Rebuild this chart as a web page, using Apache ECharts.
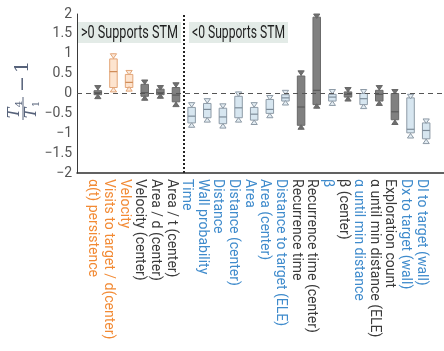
<!DOCTYPE html>
<html>
<head>
<meta charset="utf-8">
<script src="https://cdn.jsdelivr.net/npm/echarts@6/dist/echarts.min.js"></script>
<style>
  html, body { margin: 0; padding: 0; background: #ffffff; }
  #chart { width: 444px; height: 351px; }
</style>
</head>
<body>
<div id="chart"></div>
<script>
// Metric names, left to right
const categories = [
  'α(t) persistence', 'Visits to target / d(center)', 'Velocity',
  'Velocity (center)', 'Area / d (center)', 'Area / t (center)',
  'Time', 'Wall probability', 'Distance', 'Distance (center)', 'Area',
  'Area (center)', 'Distance to target (ELE)', 'Recurrence time',
  'Recurrence time (center)', 'β', 'β (center)', 'α until min distance',
  'α until min distance (ELE)', 'Exploration count',
  'Dx to target (wall)', 'Dl to target (wall)'
];

// Box statistics of T4/T1 - 1 per metric
const whiskerLow  = [-0.13, 0.04, 0.06, -0.17, -0.12, -0.33, -0.85, -0.72, -0.87, -0.72, -0.78, -0.61, -0.29, -0.90, -0.37, -0.30, -0.19, -0.38, -0.30, -0.78, -1.12, -1.26];
const quartile1   = [-0.03, 0.15, 0.15, -0.07, -0.03, -0.21, -0.74, -0.61, -0.76, -0.61, -0.67, -0.50, -0.19, -0.80, -0.28, -0.19, -0.09, -0.28, -0.19, -0.66, -0.99, -1.14];
const medians     = [ 0.02, 0.55, 0.28,  0.02,  0.02, -0.04, -0.57, -0.40, -0.59, -0.36, -0.52, -0.40, -0.11, -0.34,  0.08, -0.09, -0.02, -0.13, -0.02, -0.46, -0.90, -0.93];
const quartile3   = [ 0.07, 0.87, 0.48,  0.23,  0.11,  0.15, -0.35, -0.25, -0.37, -0.07, -0.35, -0.15, -0.03,  0.44,  1.92, -0.02,  0.04,  0.00,  0.08,  0.00, -0.11, -0.74];
const whiskerHigh = [ 0.20, 1.00, 0.58,  0.34,  0.20,  0.27, -0.23, -0.13, -0.26,  0.04, -0.23, -0.05,  0.08,  0.57,  2.00,  0.10,  0.15,  0.10,  0.20,  0.10, -0.02, -0.64];

// Box colour group and label colour group per metric
const boxGroup   = ['gray', 'orange', 'orange', 'gray', 'gray', 'gray', 'blue', 'blue', 'blue', 'blue', 'blue', 'blue', 'blue', 'gray', 'gray', 'blue', 'gray', 'blue', 'gray', 'gray', 'blue', 'blue'];
const labelGroup = ['orange', 'orange', 'orange', 'dark', 'dark', 'dark', 'blue', 'blue', 'blue', 'blue', 'blue', 'blue', 'blue', 'dark', 'dark', 'blue', 'dark', 'blue', 'dark', 'dark', 'blue', 'blue'];

// Y axis ticks
const yTicks = [-2, -1.5, -1, -0.5, 0, 0.5, 1, 1.5, 2];

// Region notes
const noteLeft = '>0 Supports STM';
const noteRight = '<0 Supports STM';

const boxStyles = {
  gray:   { fill: '#808080', stroke: '#686868', median: '#5a5a5a', tri: '#6e6e6e' },
  orange: { fill: '#fde4cf', stroke: '#e3a577', median: '#cf8a55', tri: '#fbe9da' },
  blue:   { fill: '#d7e6f0', stroke: '#8d9aa6', median: '#7d8c99', tri: '#e4edf3' }
};
const labelColors = { orange: '#f28a34', dark: '#3a3a3a', blue: '#3f8bcc' };

const W = 444, H = 351;
const gridTop = 14, gridBottom = 178;
const boxGridLeft = 90, boxGridRight = 10;
const frameLeft = 77, frameRight = 0;
const band = (W - boxGridLeft - boxGridRight) / categories.length;
// frame x-axis spans the same index scale as the category axis, widened to the frame
const frameMin = -0.5 - (boxGridLeft - frameLeft) / band;
const frameMax = categories.length - 0.5 + (boxGridRight - frameRight) / band;

const boxData = categories.map((c, i) => [i, whiskerLow[i], quartile1[i], medians[i], quartile3[i], whiskerHigh[i]]);

function renderBox(params, api) {
  const i = api.value(0);
  const pLo = api.coord([i, api.value(1)]);
  const pQ1 = api.coord([i, api.value(2)]);
  const pMd = api.coord([i, api.value(3)]);
  const pQ3 = api.coord([i, api.value(4)]);
  const pHi = api.coord([i, api.value(5)]);
  const bandW = api.size([1, 0])[0];
  const bw = bandW * 0.48, tw = bandW * 0.4, th = 4.5;
  const st = boxStyles[boxGroup[params.dataIndex]];
  const x = pMd[0];
  const lineSt = { stroke: st.stroke, lineWidth: 1 };
  return {
    type: 'group',
    children: [
      { type: 'line', shape: { x1: x, y1: pHi[1], x2: x, y2: pQ3[1] }, style: lineSt },
      { type: 'line', shape: { x1: x, y1: pQ1[1], x2: x, y2: pLo[1] }, style: lineSt },
      { type: 'rect', shape: { x: x - bw / 2, y: pQ3[1], width: bw, height: pQ1[1] - pQ3[1] },
        style: { fill: st.fill, stroke: st.stroke, lineWidth: 1 } },
      { type: 'line', shape: { x1: x - bw / 2, y1: pMd[1], x2: x + bw / 2, y2: pMd[1] },
        style: { stroke: st.median, lineWidth: 1.2 } },
      { type: 'polygon', shape: { points: [[x - tw / 2, pHi[1]], [x + tw / 2, pHi[1]], [x, pHi[1] + th]] },
        style: { fill: st.tri, stroke: st.stroke, lineWidth: 1 } },
      { type: 'polygon', shape: { points: [[x - tw / 2, pLo[1]], [x + tw / 2, pLo[1]], [x, pLo[1] - th]] },
        style: { fill: st.tri, stroke: st.stroke, lineWidth: 1 } }
    ]
  };
}

// horizontal squeeze so the note text fits its box
const noteFont = '18px Roboto, "DejaVu Sans", sans-serif';
function fitScale(text, font, width) {
  const ctx = document.createElement('canvas').getContext('2d');
  ctx.font = font;
  return width / ctx.measureText(text).width;
}

function note(text, x, w) {
  return {
    type: 'group',
    children: [
      { type: 'rect', shape: { x: x, y: 22, width: w, height: 21 }, style: { fill: '#e3ebe7' } },
      { type: 'text', x: x + 3, y: 33, scaleX: fitScale(text, noteFont, w - 6), scaleY: 1,
        style: { text: text, font: noteFont, fill: '#1f1f1f', textVerticalAlign: 'middle', textAlign: 'left' } }
    ]
  };
}

const mathFont = 'italic 16px "DejaVu Serif", "Liberation Serif", serif';
const subFont = '10px "DejaVu Serif", "Liberation Serif", serif';
const bigFont = '19px "DejaVu Serif", "Liberation Serif", serif';
const mathColor = '#56627a';
const yTitle = {
  type: 'group',
  x: 23, y: 108,
  rotation: Math.PI / 2,
  children: [
    { type: 'text', x: -5, y: -8, style: { text: 'T', font: mathFont, fill: mathColor, textAlign: 'center', textVerticalAlign: 'middle' } },
    { type: 'text', x: 4, y: -4, style: { text: '4', font: subFont, fill: mathColor, textAlign: 'center', textVerticalAlign: 'middle' } },
    { type: 'line', shape: { x1: -12, y1: 0, x2: 11, y2: 0 }, style: { stroke: mathColor, lineWidth: 1 } },
    { type: 'text', x: -5, y: 9, style: { text: 'T', font: mathFont, fill: mathColor, textAlign: 'center', textVerticalAlign: 'middle' } },
    { type: 'text', x: 4, y: 13, style: { text: '1', font: subFont, fill: mathColor, textAlign: 'center', textVerticalAlign: 'middle' } },
    { type: 'text', x: 24, y: 0, style: { text: '−', font: bigFont, fill: mathColor, textAlign: 'center', textVerticalAlign: 'middle' } },
    { type: 'text', x: 41, y: 0, style: { text: '1', font: bigFont, fill: mathColor, textAlign: 'center', textVerticalAlign: 'middle' } }
  ]
};

const chart = echarts.init(document.getElementById('chart'), null, { renderer: 'canvas' });
chart.setOption({
  animation: false,
  backgroundColor: '#ffffff',
  grid: [
    { left: boxGridLeft, right: boxGridRight, top: gridTop, bottom: gridBottom },
    { left: frameLeft, right: frameRight, top: gridTop, bottom: gridBottom }
  ],
  xAxis: [
    {
      type: 'category', gridIndex: 0, data: categories,
      axisLine: { show: false }, axisTick: { show: false }, splitLine: { show: false },
      axisLabel: {
        interval: 0, rotate: -90, margin: 6, fontSize: 14,
        fontFamily: 'Roboto, "Liberation Sans", sans-serif',
        verticalAlign: 'top', lineHeight: 10,
        color: (v, i) => labelColors[labelGroup[i]]
      }
    },
    {
      type: 'value', gridIndex: 1, min: frameMin, max: frameMax,
      axisLine: { show: true, onZero: false, lineStyle: { color: '#2e2e2e', width: 1.5 } },
      axisTick: { show: false }, axisLabel: { show: false }, splitLine: { show: false }
    }
  ],
  yAxis: [
    { type: 'value', gridIndex: 0, min: yTicks[0], max: yTicks[yTicks.length - 1], interval: 0.5, show: false },
    {
      type: 'value', gridIndex: 1, min: yTicks[0], max: yTicks[yTicks.length - 1], interval: 0.5,
      axisLine: { show: true, onZero: false, lineStyle: { color: '#3a3a3a', width: 1 } },
      axisTick: { show: false }, splitLine: { show: false },
      axisLabel: {
        fontSize: 14, color: '#555555', margin: 5,
        fontFamily: 'Roboto, "Liberation Sans", sans-serif',
        formatter: v => String(v).replace('-', '−')
      }
    }
  ],
  series: [
    {
      type: 'line', xAxisIndex: 1, yAxisIndex: 1, data: [], silent: true,
      markLine: {
        silent: true, symbol: 'none', label: { show: false },
        data: [
          { yAxis: 0, lineStyle: { type: [5, 4], color: '#555555', width: 1 } },
          { xAxis: 5.5, lineStyle: { type: [2, 2], color: '#222222', width: 2 } }
        ]
      }
    },
    {
      type: 'custom', xAxisIndex: 0, yAxisIndex: 0, clip: false,
      renderItem: renderBox,
      encode: { x: 0, y: [1, 2, 3, 4, 5] },
      data: boxData
    }
  ],
  graphic: [
    note(noteLeft, 78, 103),
    note(noteRight, 189, 99),
    yTitle
  ]
});
</script>
</body>
</html>
